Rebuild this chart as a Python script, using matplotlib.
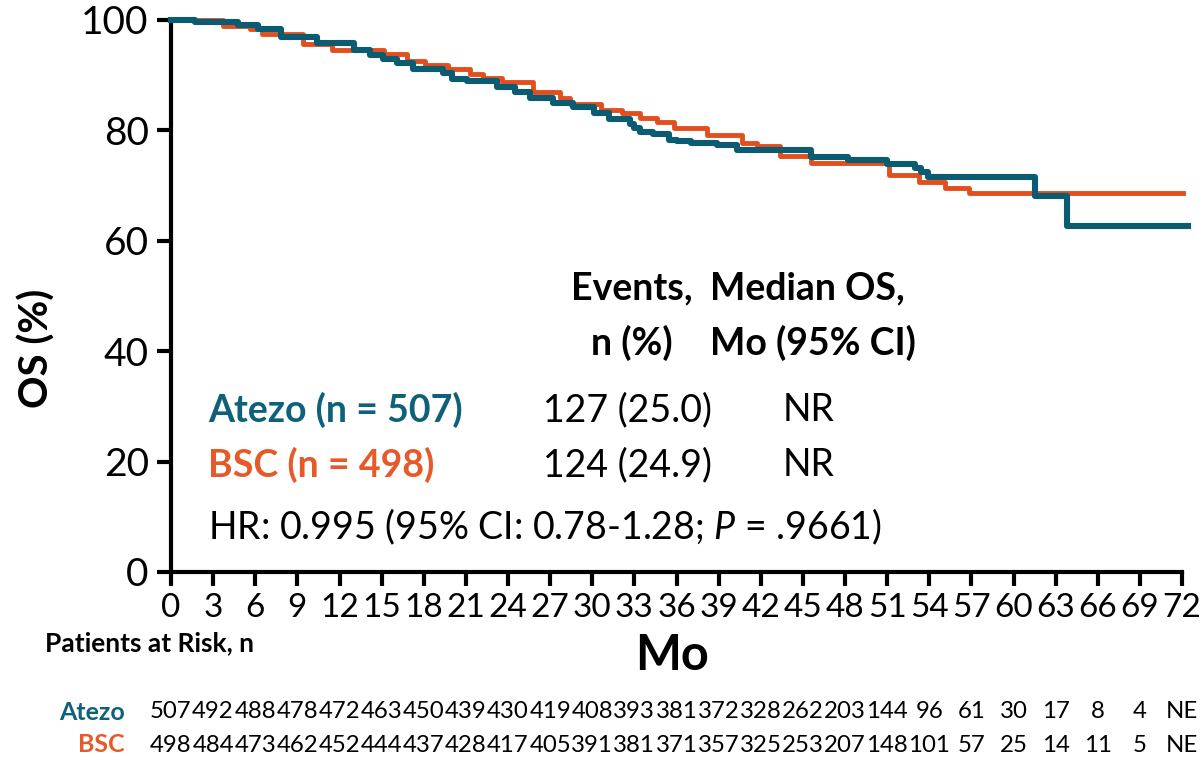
import matplotlib
matplotlib.use("Agg")
import matplotlib.pyplot as plt
from matplotlib.transforms import blended_transform_factory

plt.rcParams['font.family'] = ['Lato', 'DejaVu Sans']
plt.rcParams['mathtext.fontset'] = 'custom'
plt.rcParams['mathtext.it'] = 'Lato:italic'
plt.rcParams['mathtext.rm'] = 'Lato'

# ---- data ----
atezo_t = [0, 1.7, 4.8, 6.2, 7.8, 10.4, 13.0, 14.2, 15.1, 16.1, 17.2, 19.4, 20.0, 21.1,
           23.2, 24.5, 25.6, 27.2, 28.6, 30.1, 31.2, 32.7, 33.0, 33.4, 34.3, 35.5, 36.0,
           37.0, 38.9, 40.3, 45.6, 48.2, 51.0, 53.0, 53.4, 53.9, 61.5, 63.8, 72.4]
atezo_s = [100, 99.6, 99.1, 98.3, 96.9, 95.9, 94.6, 93.7, 93.0, 92.2, 91.2, 90.4, 89.3, 88.9,
           87.9, 87.0, 85.8, 85.0, 84.3, 83.1, 82.1, 81.2, 80.5, 79.8, 79.3, 78.3, 78.0,
           77.7, 77.3, 76.4, 75.1, 74.6, 74.0, 73.2, 72.4, 71.6, 68.1, 62.7, 62.7]

bsc_t = [0, 3.7, 5.6, 6.5, 9.4, 11.5, 15.2, 16.8, 18.1, 19.7, 21.3, 22.2, 23.6, 25.8,
         27.7, 28.4, 30.6, 32.1, 33.4, 34.6, 35.8, 38.2, 40.7, 41.7, 43.4, 45.6, 51.1,
         53.3, 55.1, 56.8, 72.1]
bsc_s = [100, 99.0, 98.4, 97.4, 95.6, 94.5, 93.8, 92.6, 91.8, 91.2, 90.2, 89.5, 88.7, 87.0,
         85.8, 84.7, 83.7, 83.1, 82.2, 81.5, 80.4, 79.2, 77.8, 77.2, 75.3, 74.1, 72.0,
         70.6, 69.5, 68.7, 68.7]

x_ticks = list(range(0, 73, 3))
y_ticks = [0, 20, 40, 60, 80, 100]

atezo_risk = ['507', '492', '488', '478', '472', '463', '450', '439', '430', '419', '408', '393',
              '381', '372', '328', '262', '203', '144', '96', '61', '30', '17', '8', '4', 'NE']
bsc_risk = ['498', '484', '473', '462', '452', '444', '437', '428', '417', '405', '391', '381',
            '371', '357', '325', '253', '207', '148', '101', '57', '25', '14', '11', '5', 'NE']

TEAL = '#0B5B71'
ORANGE = '#E34E1E'
TEAL_TXT = '#0E6179'
ORANGE_TXT = '#E65A2A'

W, H = 1204, 764
fig = plt.figure(figsize=(W / 100, H / 100), dpi=100)
ax = fig.add_axes([171 / W, 1 - 572 / H, (1182 - 171) / W, (572 - 20) / H])

ax.step(bsc_t, bsc_s, where='post', color=ORANGE, lw=3.5, clip_on=False, zorder=3)
ax.step(atezo_t, atezo_s, where='post', color=TEAL, lw=4.4, clip_on=False, zorder=4)

ax.set_xlim(0, 72)
ax.set_ylim(0, 100)
ax.set_xticks(x_ticks)
ax.set_yticks(y_ticks)
for s in ['top', 'right']:
    ax.spines[s].set_visible(False)
for s in ['left', 'bottom']:
    ax.spines[s].set_linewidth(3)
    ax.spines[s].set_capstyle('projecting')
ax.tick_params(axis='both', direction='out', length=10, width=3, color='black')
ax.tick_params(axis='x', labelsize=24, pad=5)
ax.tick_params(axis='y', labelsize=28, pad=6)

# header / annotations
FS = 27
tk = dict(transform=ax.transAxes, va='center', color='black')
ax.text(0.456, 0.514, 'Events,', ha='center', fontsize=FS, fontweight='bold', **tk)
ax.text(0.456, 0.415, 'n (%)', ha='center', fontsize=FS, fontweight='bold', **tk)
ax.text(0.533, 0.514, 'Median OS,', ha='left', fontsize=FS, fontweight='bold', **tk)
ax.text(0.533, 0.415, 'Mo (95% CI)', ha='left', fontsize=FS, fontweight='bold', **tk)

ax.text(0.0366, 0.293, 'Atezo (n = 507)', ha='left', va='center', fontsize=FS,
        fontweight='bold', color=TEAL_TXT, transform=ax.transAxes)
ax.text(0.368, 0.293, '127 (25.0)', ha='left', fontsize=FS, **tk)
ax.text(0.605, 0.293, 'NR', ha='left', fontsize=FS, **tk)
ax.text(0.0366, 0.194, 'BSC (n = 498)', ha='left', va='center', fontsize=FS,
        fontweight='bold', color=ORANGE_TXT, transform=ax.transAxes)
ax.text(0.368, 0.194, '124 (24.9)', ha='left', fontsize=FS, **tk)
ax.text(0.605, 0.194, 'NR', ha='left', fontsize=FS, **tk)
ax.text(0.0366, 0.0815, 'HR: 0.995 (95% CI: 0.78-1.28; $P$ = .9661)', ha='left',
        fontsize=FS, **tk)

# axis labels
fig.text(672 / W, 1 - 655 / H, 'Mo', ha='center', va='center', fontsize=35, fontweight='bold')
fig.text(37 / W, 1 - 348 / H, 'OS (%)', ha='center', va='center', rotation=90,
         fontsize=29, fontweight='bold')

# at-risk table
fig.text(45 / W, 1 - 643 / H, 'Patients at Risk, n', ha='left', va='center',
         fontsize=19, fontweight='bold')
fig.text(125 / W, 1 - 712 / H, 'Atezo', ha='right', va='center', fontsize=18,
         fontweight='bold', color=TEAL_TXT)
fig.text(125 / W, 1 - 745 / H, 'BSC', ha='right', va='center', fontsize=18,
         fontweight='bold', color=ORANGE_TXT)
tr = blended_transform_factory(ax.transData, fig.transFigure)
for xt, a, b in zip(x_ticks, atezo_risk, bsc_risk):
    ax.text(xt, 1 - 712 / H, a, ha='center', va='center', fontsize=17.3, transform=tr,
            clip_on=False)
    ax.text(xt, 1 - 745 / H, b, ha='center', va='center', fontsize=17.3, transform=tr,
            clip_on=False)

fig.savefig('out.png', dpi=100)
